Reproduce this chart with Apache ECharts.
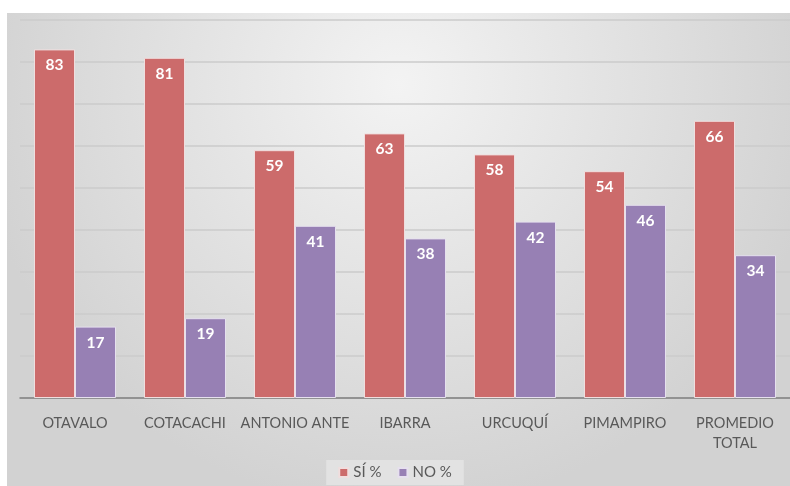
<!DOCTYPE html>
<html>
<head>
<meta charset="utf-8">
<script src="https://cdn.jsdelivr.net/npm/echarts@6/dist/echarts.min.js"></script>
<style>
  html, body { margin: 0; padding: 0; background: #fff; }
  #main { width: 790px; height: 486px; }
</style>
</head>
<body>
<div id="main"></div>
<script>
var categories = ['OTAVALO', 'COTACACHI', 'ANTONIO ANTE', 'IBARRA', 'URCUQUÍ', 'PIMAMPIRO', 'PROMEDIO\nTOTAL'];
var siValues = [83, 81, 59, 63, 58, 54, 66];
var noValues = [17, 19, 41, 38, 42, 46, 34];

var chart = echarts.init(document.getElementById('main'));

var barLabel = {
    show: true,
    position: 'insideTop',
    distance: 8,
    color: '#ffffff',
    fontSize: 15.5,
    fontWeight: 'bold',
    fontFamily: 'Lato'
};

var option = {
    backgroundColor: '#ffffff',
    animation: false,
    textStyle: { fontFamily: 'Lato' },
    graphic: [{
        type: 'rect',
        z: -10,
        shape: { x: 7, y: 13, width: 783, height: 473 },
        style: {
            fill: {
                type: 'radial', x: 0.5, y: 0.15, r: 0.9,
                colorStops: [
                    { offset: 0, color: '#f3f3f3' },
                    { offset: 1, color: '#d2d2d2' }
                ]
            }
        }
    }],
    legend: {
        bottom: 1,
        left: 'center',
        itemWidth: 9,
        itemHeight: 9,
        itemGap: 16,
        padding: [5, 12],
        backgroundColor: '#e2e2e2',
        icon: 'rect',
        textStyle: { color: '#595959', fontSize: 15, fontFamily: 'Lato' },
        data: ['SÍ %', 'NO %']
    },
    grid: { left: 20, right: 0, top: 20, bottom: 88 },
    xAxis: {
        type: 'category',
        data: categories,
        axisTick: { show: false },
        axisLine: { lineStyle: { color: '#7f7f7f', width: 1.5 } },
        axisLabel: {
            color: '#595959',
            fontSize: 14.5,
            margin: 15,
            lineHeight: 20,
            interval: 0,
            fontFamily: 'Lato'
        }
    },
    yAxis: {
        type: 'value',
        min: 0,
        max: 90,
        interval: 10,
        axisLabel: { show: false },
        axisLine: { show: false },
        axisTick: { show: false },
        splitLine: { lineStyle: { color: '#cbcbcb', width: 1.5 } }
    },
    series: [
        {
            name: 'SÍ %',
            type: 'bar',
            data: siValues,
            barWidth: 41,
            barGap: '0%',
            itemStyle: { color: '#cc6b6b', borderColor: '#f0dede', borderWidth: 1 },
            label: barLabel
        },
        {
            name: 'NO %',
            type: 'bar',
            data: noValues,
            barWidth: 41,
            itemStyle: { color: '#9780b4', borderColor: '#e6e0ee', borderWidth: 1 },
            label: barLabel
        }
    ]
};

chart.setOption(option);
</script>
</body>
</html>
